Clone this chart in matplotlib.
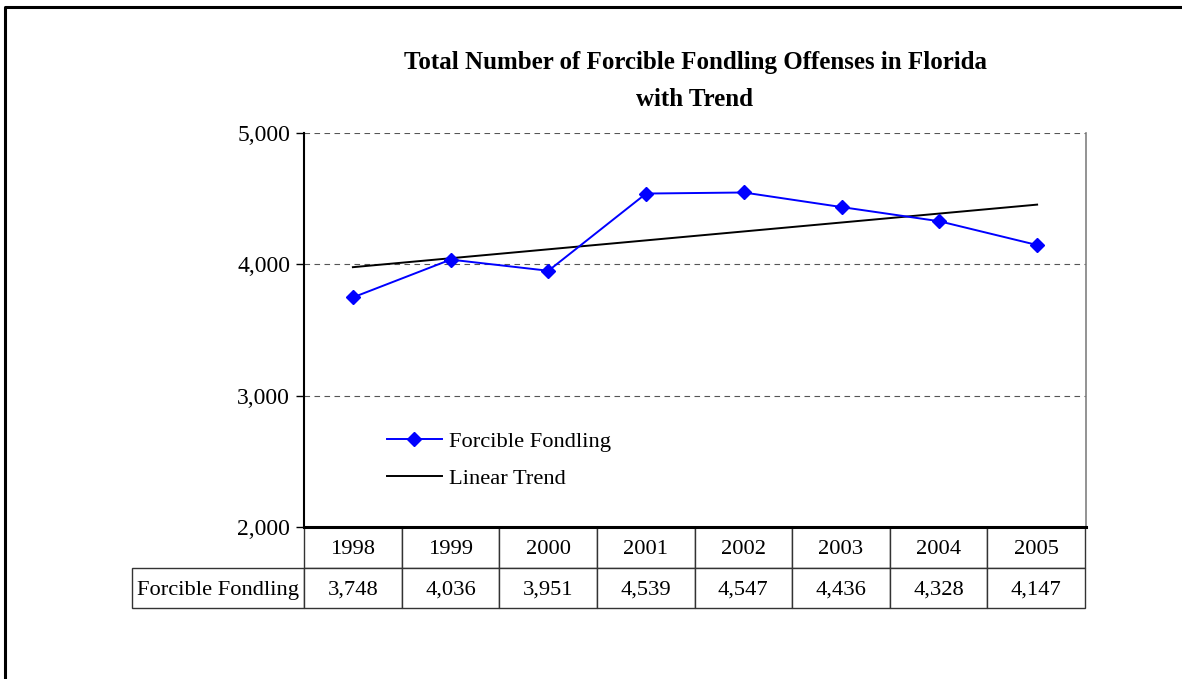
import matplotlib.pyplot as plt
from matplotlib.lines import Line2D
import numpy as np

years = ['1998', '1999', '2000', '2001', '2002', '2003', '2004', '2005']
fondling = [3748, 4036, 3951, 4539, 4547, 4436, 4328, 4147]
series_name = 'Forcible Fondling'
yticks = [2000, 3000, 4000, 5000]

plt.rcParams['font.family'] = ['Liberation Serif', 'DejaVu Serif']

fig = plt.figure(figsize=(11.82, 6.79), dpi=100)
ax = fig.add_axes([304 / 1182, 1 - 527 / 679, 782 / 1182, 394 / 679])

x = np.arange(len(years))
# linear trend, least squares like Excel's trendline
k, b = np.polyfit(x, fondling, 1)
trend = k * x + b

ax.plot(x, fondling, color='#0000ff', lw=1.4, marker='D', ms=7,
        label=series_name, zorder=3)
ax.plot(x, trend, color='black', lw=1.4, label='Linear Trend', zorder=2)

ax.set_xlim(-0.5, len(years) - 0.5)
ax.set_ylim(2000, 5000)
ax.set_yticks(yticks)
ax.set_yticklabels([f'{v:,}' for v in yticks], fontsize=17)
ax.set_xticks([])
ax.tick_params(axis='y', direction='out', length=6, width=1, pad=4)
for v in yticks[1:]:
    ax.axhline(v, color='#555555', lw=0.8, ls=(0, (5, 4)), zorder=1)

ax.spines['top'].set_visible(False)
ax.spines['left'].set_linewidth(1.5)
ax.spines['bottom'].set_linewidth(2.2)
ax.spines['right'].set_color('#808080')
ax.spines['right'].set_linewidth(1.2)

fig.text(695 / 1182, 1 - 63 / 679, 'Total Number of Forcible Fondling Offenses in Florida',
         ha='center', va='center', fontsize=18, fontweight='bold')
fig.text(695 / 1182, 1 - 99 / 679, 'with Trend',
         ha='center', va='center', fontsize=18, fontweight='bold')

leg = ax.legend(loc='center left', bbox_to_anchor=(0.08, 0.17), frameon=False,
                fontsize=16.2, handlelength=2.45, handletextpad=0.3, labelspacing=0.7)

# data table under the plot
vals = [f'{v:,}' for v in fondling]
rows = [[''] + years, [series_name] + vals]
tab = ax.table(cellText=rows, cellLoc='center',
               bbox=[(132 - 304) / 782, -81 / 394, 953 / 782, 81 / 394])
tab.auto_set_font_size(False)
lab_w = 172 / 953
col_w = (1 - lab_w) / len(years)
for (r, c), cell in tab.get_celld().items():
    cell.set_linewidth(1.0)
    cell.set_edgecolor('#333333')
    cell.get_text().set_fontsize(16.2)
    cell.get_text().set_va('center_baseline')
    cell.set_width(lab_w if c == 0 else col_w)
    if (r, c) == (0, 0):
        cell.visible_edges = ''

# outer frame of the chart area
fig.add_artist(Line2D([5 / 1182, 5 / 1182, 1.0], [0.0, 1 - 7 / 679, 1 - 7 / 679],
                      transform=fig.transFigure, color='black', lw=2.2))

fig.savefig('out.png', dpi=100)
